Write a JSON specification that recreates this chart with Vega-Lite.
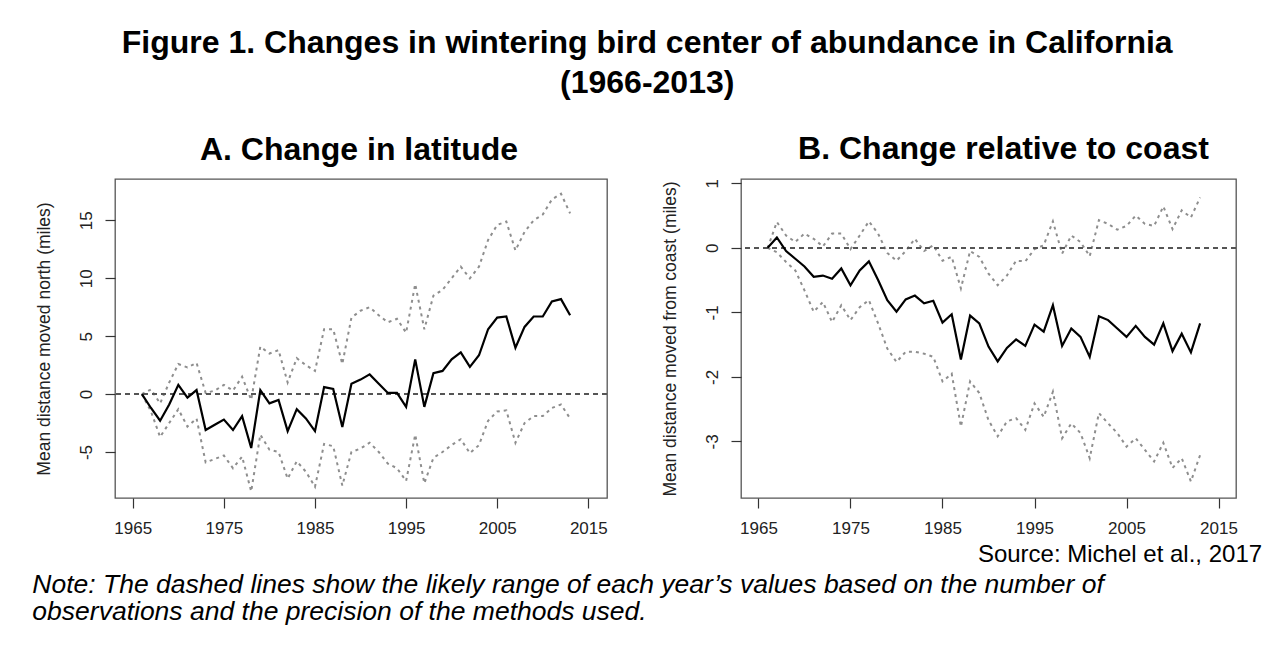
{
  "$schema": "https://vega.github.io/schema/vega-lite/v6.json",
  "background": "white",
  "padding": {"left": 32, "top": 27, "right": 6, "bottom": 3},
  "datasets": {
    "birds": [
      {"panel":"A","year":1966,"mean":0,"upper":0,"lower":0},
      {"panel":"A","year":1967,"mean":-1.2,"upper":0.4,"lower":-1.5},
      {"panel":"A","year":1968,"mean":-2.3,"upper":-0.8,"lower":-3.7},
      {"panel":"A","year":1969,"mean":-0.9,"upper":1.0,"lower":-2.5},
      {"panel":"A","year":1970,"mean":0.8,"upper":2.6,"lower":-1.3},
      {"panel":"A","year":1971,"mean":-0.3,"upper":2.3,"lower":-2.8},
      {"panel":"A","year":1972,"mean":0.35,"upper":2.7,"lower":-2.1},
      {"panel":"A","year":1973,"mean":-3.1,"upper":0.1,"lower":-5.9},
      {"panel":"A","year":1974,"mean":-2.65,"upper":0.3,"lower":-5.6},
      {"panel":"A","year":1975,"mean":-2.2,"upper":0.8,"lower":-5.3},
      {"panel":"A","year":1976,"mean":-3.1,"upper":0.3,"lower":-6.4},
      {"panel":"A","year":1977,"mean":-1.9,"upper":1.5,"lower":-5.4},
      {"panel":"A","year":1978,"mean":-4.65,"upper":-0.5,"lower":-8.4},
      {"panel":"A","year":1979,"mean":0.35,"upper":4.1,"lower":-3.5},
      {"panel":"A","year":1980,"mean":-0.8,"upper":3.5,"lower":-4.8},
      {"panel":"A","year":1981,"mean":-0.5,"upper":3.8,"lower":-5.0},
      {"panel":"A","year":1982,"mean":-3.2,"upper":1.0,"lower":-7.3},
      {"panel":"A","year":1983,"mean":-1.3,"upper":3.1,"lower":-5.8},
      {"panel":"A","year":1984,"mean":-2.1,"upper":2.5,"lower":-6.7},
      {"panel":"A","year":1985,"mean":-3.2,"upper":2.0,"lower":-8.0},
      {"panel":"A","year":1986,"mean":0.6,"upper":5.6,"lower":-4.3},
      {"panel":"A","year":1987,"mean":0.45,"upper":5.6,"lower":-4.5},
      {"panel":"A","year":1988,"mean":-2.85,"upper":2.6,"lower":-7.9},
      {"panel":"A","year":1989,"mean":0.9,"upper":6.6,"lower":-5.0},
      {"panel":"A","year":1990,"mean":1.25,"upper":7.2,"lower":-4.7},
      {"panel":"A","year":1991,"mean":1.7,"upper":7.5,"lower":-4.2},
      {"panel":"A","year":1992,"mean":0.9,"upper":6.8,"lower":-5.0},
      {"panel":"A","year":1993,"mean":0.1,"upper":6.2,"lower":-6.0},
      {"panel":"A","year":1994,"mean":0.1,"upper":6.5,"lower":-6.4},
      {"panel":"A","year":1995,"mean":-1.1,"upper":5.3,"lower":-7.5},
      {"panel":"A","year":1996,"mean":3.0,"upper":9.5,"lower":-3.5},
      {"panel":"A","year":1997,"mean":-1.1,"upper":5.6,"lower":-7.7},
      {"panel":"A","year":1998,"mean":1.8,"upper":8.5,"lower":-5.5},
      {"panel":"A","year":1999,"mean":2.0,"upper":9.0,"lower":-5.0},
      {"panel":"A","year":2000,"mean":3.0,"upper":10.0,"lower":-4.4},
      {"panel":"A","year":2001,"mean":3.6,"upper":11.0,"lower":-3.9},
      {"panel":"A","year":2002,"mean":2.35,"upper":10.0,"lower":-5.1},
      {"panel":"A","year":2003,"mean":3.35,"upper":11.0,"lower":-4.4},
      {"panel":"A","year":2004,"mean":5.6,"upper":13.3,"lower":-2.3},
      {"panel":"A","year":2005,"mean":6.6,"upper":14.6,"lower":-1.5},
      {"panel":"A","year":2006,"mean":6.7,"upper":14.9,"lower":-1.4},
      {"panel":"A","year":2007,"mean":4.0,"upper":12.4,"lower":-4.2},
      {"panel":"A","year":2008,"mean":5.8,"upper":14.0,"lower":-2.5},
      {"panel":"A","year":2009,"mean":6.7,"upper":15.0,"lower":-1.9},
      {"panel":"A","year":2010,"mean":6.7,"upper":15.5,"lower":-1.9},
      {"panel":"A","year":2011,"mean":8.0,"upper":16.8,"lower":-1.2},
      {"panel":"A","year":2012,"mean":8.2,"upper":17.3,"lower":-0.9},
      {"panel":"A","year":2013,"mean":6.8,"upper":15.6,"lower":-2.1},
      {"panel":"B","year":1966,"mean":0,"upper":0,"lower":0},
      {"panel":"B","year":1967,"mean":0.16,"upper":0.40,"lower":-0.07},
      {"panel":"B","year":1968,"mean":-0.05,"upper":0.19,"lower":-0.22},
      {"panel":"B","year":1969,"mean":-0.17,"upper":0.09,"lower":-0.35},
      {"panel":"B","year":1970,"mean":-0.29,"upper":0.22,"lower":-0.66},
      {"panel":"B","year":1971,"mean":-0.45,"upper":0.14,"lower":-0.99},
      {"panel":"B","year":1972,"mean":-0.43,"upper":0.02,"lower":-0.84},
      {"panel":"B","year":1973,"mean":-0.48,"upper":0.22,"lower":-1.15},
      {"panel":"B","year":1974,"mean":-0.32,"upper":0.22,"lower":-0.89},
      {"panel":"B","year":1975,"mean":-0.58,"upper":-0.02,"lower":-1.12},
      {"panel":"B","year":1976,"mean":-0.35,"upper":0.19,"lower":-0.92},
      {"panel":"B","year":1977,"mean":-0.21,"upper":0.41,"lower":-0.81},
      {"panel":"B","year":1978,"mean":-0.50,"upper":0.22,"lower":-1.17},
      {"panel":"B","year":1979,"mean":-0.81,"upper":-0.08,"lower":-1.56},
      {"panel":"B","year":1980,"mean":-0.99,"upper":-0.20,"lower":-1.77},
      {"panel":"B","year":1981,"mean":-0.80,"upper":-0.05,"lower":-1.61},
      {"panel":"B","year":1982,"mean":-0.74,"upper":0.14,"lower":-1.61},
      {"panel":"B","year":1983,"mean":-0.86,"upper":-0.05,"lower":-1.64},
      {"panel":"B","year":1984,"mean":-0.82,"upper":0.04,"lower":-1.69},
      {"panel":"B","year":1985,"mean":-1.16,"upper":-0.20,"lower":-2.07},
      {"panel":"B","year":1986,"mean":-1.03,"upper":-0.14,"lower":-1.95},
      {"panel":"B","year":1987,"mean":-1.73,"upper":-0.63,"lower":-2.77},
      {"panel":"B","year":1988,"mean":-1.05,"upper":-0.05,"lower":-2.07},
      {"panel":"B","year":1989,"mean":-1.17,"upper":-0.14,"lower":-2.25},
      {"panel":"B","year":1990,"mean":-1.53,"upper":-0.40,"lower":-2.67},
      {"panel":"B","year":1991,"mean":-1.76,"upper":-0.58,"lower":-2.92},
      {"panel":"B","year":1992,"mean":-1.55,"upper":-0.43,"lower":-2.69},
      {"panel":"B","year":1993,"mean":-1.42,"upper":-0.20,"lower":-2.64},
      {"panel":"B","year":1994,"mean":-1.52,"upper":-0.21,"lower":-2.82},
      {"panel":"B","year":1995,"mean":-1.19,"upper":-0.02,"lower":-2.41},
      {"panel":"B","year":1996,"mean":-1.30,"upper":0.04,"lower":-2.62},
      {"panel":"B","year":1997,"mean":-0.89,"upper":0.41,"lower":-2.23},
      {"panel":"B","year":1998,"mean":-1.52,"upper":-0.09,"lower":-2.95},
      {"panel":"B","year":1999,"mean":-1.25,"upper":0.19,"lower":-2.72},
      {"panel":"B","year":2000,"mean":-1.38,"upper":0.09,"lower":-2.87},
      {"panel":"B","year":2001,"mean":-1.69,"upper":-0.13,"lower":-3.26},
      {"panel":"B","year":2002,"mean":-1.06,"upper":0.43,"lower":-2.56},
      {"panel":"B","year":2003,"mean":-1.12,"upper":0.37,"lower":-2.72},
      {"panel":"B","year":2004,"mean":-1.25,"upper":0.28,"lower":-2.87},
      {"panel":"B","year":2005,"mean":-1.38,"upper":0.34,"lower":-3.08},
      {"panel":"B","year":2006,"mean":-1.21,"upper":0.50,"lower":-2.95},
      {"panel":"B","year":2007,"mean":-1.38,"upper":0.37,"lower":-3.13},
      {"panel":"B","year":2008,"mean":-1.50,"upper":0.34,"lower":-3.31},
      {"panel":"B","year":2009,"mean":-1.17,"upper":0.64,"lower":-3.02},
      {"panel":"B","year":2010,"mean":-1.60,"upper":0.29,"lower":-3.41},
      {"panel":"B","year":2011,"mean":-1.33,"upper":0.58,"lower":-3.26},
      {"panel":"B","year":2012,"mean":-1.62,"upper":0.47,"lower":-3.62},
      {"panel":"B","year":2013,"mean":-1.17,"upper":0.78,"lower":-3.21}
    ]
  },
  "title": {
    "text": ["Figure 1. Changes in wintering bird center of abundance in California", "(1966-2013)"],
    "fontSize": 32,
    "lineHeight": 40,
    "anchor": "middle",
    "offset": 32,
    "dx": 0
  },
  "vconcat": [
    {
      "title": {
        "text": ["Note: The dashed lines show the likely range of each year’s values based on the number of", "observations and the precision of the methods used."],
        "orient": "bottom",
        "anchor": "start",
        "fontStyle": "italic",
        "fontWeight": "normal",
        "fontSize": 26.5,
        "lineHeight": 27,
        "offset": 5,
        "dx": -2
      },
      "vconcat": [
        {
          "title": {
            "text": "Source: Michel et al., 2017",
            "orient": "bottom",
            "anchor": "end",
            "fontWeight": "normal",
            "fontSize": 24,
            "offset": 6,
            "dx": 24
          },
          "spacing": 51,
          "hconcat": [
            {
              "width": 492,
              "height": 319,
              "title": {"text": "A. Change in latitude", "offset": 12.5, "dx": -2},
              "data": {"name": "birds"},
              "transform": [{"filter": "datum.panel === 'A'"}],
              "layer": [
                {
                  "transform": [{"fold": ["lower", "upper"], "as": ["bound", "val"]}],
                  "mark": {"type": "line", "color": "#8e8e8e", "strokeWidth": 2, "strokeDash": [3, 4]},
                  "encoding": {
                    "x": {"field": "year", "type": "quantitative", "scale": {"domain": [1963.05, 2017.05], "nice": false, "zero": false}, "axis": {"values": [1965, 1975, 1985, 1995, 2005, 2015], "labelExpr": "toString(datum.value)", "title": null}},
                    "y": {"field": "val", "type": "quantitative", "scale": {"domain": [-8.97, 18.57], "nice": false, "zero": false}, "axis": {"values": [-5, 0, 5, 10, 15], "labelExpr": "toString(datum.value)", "title": "Mean distance moved north (miles)"}},
                    "detail": {"field": "bound"}
                  }
                },
                {
                  "mark": {"type": "rule", "color": "#555555", "strokeWidth": 1.5, "strokeDash": [5, 4]},
                  "encoding": {"y": {"datum": 0, "type": "quantitative"}}
                },
                {
                  "mark": {"type": "line", "color": "#000000", "strokeWidth": 2.2},
                  "encoding": {
                    "x": {"field": "year", "type": "quantitative"},
                    "y": {"field": "mean", "type": "quantitative"}
                  }
                }
              ]
            },
            {
              "width": 495,
              "height": 319,
              "title": {"text": "B. Change relative to coast", "offset": 12.5, "dx": 15},
              "data": {"name": "birds"},
              "transform": [{"filter": "datum.panel === 'B'"}],
              "layer": [
                {
                  "transform": [{"fold": ["lower", "upper"], "as": ["bound", "val"]}],
                  "mark": {"type": "line", "color": "#8e8e8e", "strokeWidth": 2, "strokeDash": [3, 4]},
                  "encoding": {
                    "x": {"field": "year", "type": "quantitative", "scale": {"domain": [1963.1, 2016.9], "nice": false, "zero": false}, "axis": {"values": [1965, 1975, 1985, 1995, 2005, 2015], "labelExpr": "toString(datum.value)", "title": null}},
                    "y": {"field": "val", "type": "quantitative", "scale": {"domain": [-3.876, 1.066], "nice": false, "zero": false}, "axis": {"values": [-3, -2, -1, 0, 1], "labelExpr": "toString(datum.value)", "title": "Mean distance moved from coast (miles)"}},
                    "detail": {"field": "bound"}
                  }
                },
                {
                  "mark": {"type": "rule", "color": "#555555", "strokeWidth": 1.5, "strokeDash": [5, 4]},
                  "encoding": {"y": {"datum": 0, "type": "quantitative"}}
                },
                {
                  "mark": {"type": "line", "color": "#000000", "strokeWidth": 2.2},
                  "encoding": {
                    "x": {"field": "year", "type": "quantitative"},
                    "y": {"field": "mean", "type": "quantitative"}
                  }
                }
              ]
            }
          ]
        }
      ]
    }
  ],
  "config": {
    "font": "Liberation Sans",
    "view": {"stroke": "#555555", "strokeWidth": 1.3},
    "title": {"font": "Liberation Sans", "fontSize": 32, "fontWeight": "bold", "color": "#000000", "anchor": "middle"},
    "axis": {
      "labelFont": "Liberation Sans",
      "labelFontSize": 17,
      "labelColor": "#222222",
      "titleFont": "Liberation Sans",
      "titleFontSize": 17.5,
      "titleFontWeight": "normal",
      "titleColor": "#222222",
      "tickColor": "#333333",
      "tickSize": 10,
      "tickWidth": 1.2,
      "domain": false,
      "grid": false
    },
    "axisX": {"labelPadding": 12},
    "axisY": {"labelAngle": -90, "labelAlign": "center", "labelBaseline": "bottom", "labelPadding": 10, "titlePadding": 24}
  }
}
